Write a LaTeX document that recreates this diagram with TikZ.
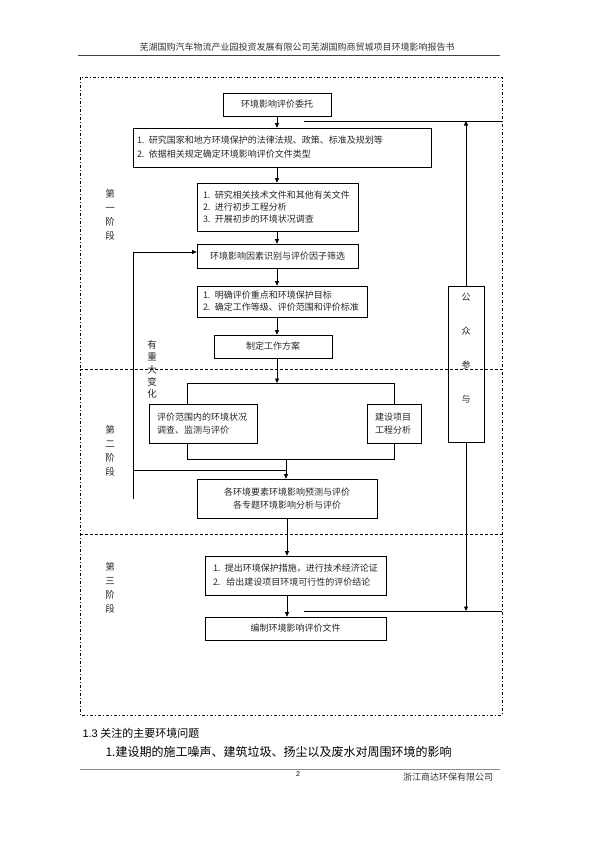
\documentclass[tikz,border=0pt]{standalone}
\usepackage{fontspec}
\setmainfont{Noto Sans CJK SC}
\newfontfamily\latinfont{Liberation Sans}
\usetikzlibrary{arrows.meta}

\begin{document}
\begin{tikzpicture}[x=1pt, y=-1pt,
	box/.style={draw, line width=0.7pt, inner sep=0pt, text=black!85, font=\fontsize{9}{13}\selectfont},
	lbox/.style={box, align=left},
	flow/.style={line width=0.7pt, -{Triangle[length=4.5pt,width=4pt]}},
	link/.style={line width=0.7pt},
	frame/.style={line width=0.5pt, dash pattern=on 3pt off 2pt on 1pt off 2pt},
	sep/.style={line width=0.5pt, dash pattern=on 3pt off 2pt},
	stage/.style={align=center, text=black!85, font=\fontsize{9.5}{14}\selectfont}]

	\useasboundingbox (0,0) rectangle (595,841);

	% page header
	\node[text=black!80, font=\fontsize{9}{9}\selectfont] (title) at (297,47) {芜湖国购汽车物流产业园投资发展有限公司芜湖国购商贸城项目环境影响报告书};
	\draw[line width=0.6pt, black!75] (78,55) -- (500,55);

	% frame and stage separators
	\draw[frame] (80,77) rectangle (502,715);
	\draw[sep] (80,369) -- (502,369);
	\draw[sep] (80,534) -- (502,534);

	\node[stage] (st1) at (110,215)   {第\\一\\阶\\段};
	\node[stage] (st2) at (110,450.5) {第\\二\\阶\\段};
	\node[stage] (st3) at (110,587.5) {第\\三\\阶\\段};

	% boxes
	\node[box, minimum width=108pt, minimum height=23pt] (entrust) at (277,104.5) {环境影响评价委托};
	\node[lbox, minimum height=39pt, inner xsep=4pt, text width=290pt, font=\fontsize{9}{14}\selectfont] (law) at (282,147.5)
		{1. 研究国家和地方环境保护的法律法规、政策、标准及规划等\\2. 依据相关规定确定环境影响评价文件类型};
	\node[lbox, minimum height=48pt, inner xsep=6pt, text width=149pt, font=\fontsize{9}{12}\selectfont] (tech) at (277.5,207)
		{1. 研究相关技术文件和其他有关文件\\2. 进行初步工程分析\\3. 开展初步的环境状况调查};
	\node[box, minimum width=161pt, minimum height=24pt] (ident) at (277.5,256) {环境影响因素识别与评价因子筛选};
	\node[lbox, minimum height=31pt, inner xsep=6pt, text width=158pt, font=\fontsize{9}{12}\selectfont] (focus) at (282,301.5)
		{1. 明确评价重点和环境保护目标\\2. 确定工作等级、评价范围和评价标准};
	\node[box, minimum width=118pt, minimum height=23pt] (plan) at (273,346.5) {制定工作方案};
	\node[lbox, minimum height=39pt, inner xsep=8pt, text width=92pt] (survey) at (203,423.5)
		{评价范围内的环境状况\\调查、监测与评价};
	\node[lbox, minimum height=39pt, inner xsep=8pt, text width=38pt] (proj) at (394,423.5)
		{建设项目\\工程分析};
	\node[box, align=center, minimum width=180pt, minimum height=39pt] (predict) at (287,498.5)
		{各环境要素环境影响预测与评价\\各专题环境影响分析与评价};
	\node[lbox, minimum height=39pt, inner xsep=8pt, text width=165pt, font=\fontsize{9}{14}\selectfont] (measure) at (295.5,575.5)
		{1. 提出环境保护措施，进行技术经济论证\\2.\ \ 给出建设项目环境可行性的评价结论};
	\node[box, minimum width=181pt, minimum height=23pt] (report) at (295.5,628.5) {编制环境影响评价文件};

	\node[box, minimum width=36pt, minimum height=156pt] (pub) at (466,364) {};
	\node[align=center, text=black!85, font=\fontsize{9}{34}\selectfont] (pubtxt) at (466,348) {公\\众\\参\\与};
	\node[stage, font=\fontsize{9.5}{12.3}\selectfont] (change) at (152,369.5) {有\\重\\大\\变\\化};

	% main flow
	\coordinate (spine) at (277,0);
	\draw[flow] (spine |- entrust.south) -- (spine |- law.north);
	\draw[flow] (spine |- law.south) -- (spine |- tech.north);
	\draw[flow] (spine |- tech.south) -- (spine |- ident.north);
	\draw[flow] (spine |- ident.south) -- (spine |- focus.north);
	\draw[flow] (spine |- focus.south) -- (spine |- plan.north);

	% split and join
	\coordinate (bl) at (187,383);
	\coordinate (br) at (394,383);
	\draw[flow] (spine |- plan.south) -- (spine |- bl);
	\draw[link] (bl |- survey.north) -- (bl) -- (br) -- (proj.north);
	\coordinate (jl) at (187,459);
	\coordinate (jr) at (394,459);
	\coordinate (jm) at (286,459);
	\draw[link] (bl |- survey.south) -- (jl) -- (jr) -- (proj.south);
	\draw[flow] (jm) -- (jm |- predict.north);
	\draw[flow] (predict.south) -- (predict.south |- measure.north);
	\draw[flow] (predict.south |- measure.south) -- (predict.south |- report.north);

	% feedback on major change
	\coordinate (fb) at (286,470);
	\coordinate (fbl) at (133,470);
	\coordinate (fbe) at (133,499);
	\coordinate (fbt) at (133,252);
	\draw[link] (fb) -- (fbl);
	\draw[flow] (fbe) -- (fbt) -- (fbt -| ident.west);

	% public participation
	\coordinate (pt) at (304,121);
	\coordinate (pr) at (502,121);
	\coordinate (qt) at (304,611);
	\coordinate (qr) at (502,611);
	\draw[link] (pt) -- (pr);
	\draw[link] (qt) -- (qr);
	\draw[flow] (pub.north) -- (pub.north |- pt);
	\draw[flow] (pub.south) -- (pub.south |- qt);

	% text below
	\node[anchor=west, font=\fontsize{11}{11}\selectfont] (sec) at (79,733) {{\latinfont 1.3} 关注的主要环境问题};
	\node[anchor=west, font=\fontsize{12}{12}\selectfont] (item) at (102,752) {1.建设期的施工噪声、建筑垃圾、扬尘以及废水对周围环境的影响};

	% page footer
	\draw[line width=0.8pt, black!45] (80,769) -- (500,769);
	\node[font=\latinfont\fontsize{7}{7}\selectfont] (pageno) at (298,774) {2};
	\node[text=black!80, font=\fontsize{9}{9}\selectfont] (firm) at (448,777) {浙江商达环保有限公司};
\end{tikzpicture}
\end{document}
